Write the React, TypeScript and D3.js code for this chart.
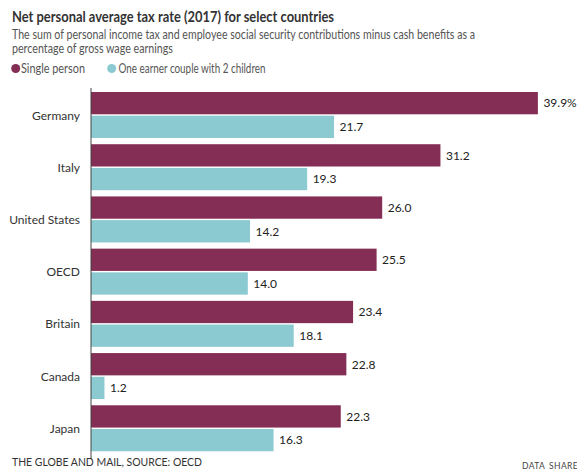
import React from "react";
import * as d3 from "d3";

const countries = ["Germany", "Italy", "United States", "OECD", "Britain", "Canada", "Japan"];
const singlePerson = [39.9, 31.2, 26.0, 25.5, 23.4, 22.8, 22.3];
const coupleTwoKids = [21.7, 19.3, 14.2, 14.0, 18.1, 1.2, 16.3];
const seriesNames = ["Single person", "One earner couple with 2 children"];
const seriesColors = ["#842d55", "#8bcad1"];

const W = 577;
const H = 474;
const FONT = "Lato, 'Open Sans', sans-serif";

export default function App() {
  const x = d3.scaleLinear().domain([0, 40]).range([91, 539]);
  const y = d3.scaleBand<string>().domain(countries).range([90, 455.5]).paddingInner(0).paddingOuter(0);
  const inner = d3.scaleBand<string>().domain(["s", "c"]).range([0, 46]).paddingInner(0.06);
  const fmt = (v: number, i: number, first: boolean) => (first && i === 0 ? d3.format(".1f")(v) + "%" : d3.format(".1f")(v));

  return (
    <svg width={W} height={H} style={{ position: "absolute", left: 0, top: 0, fontFamily: FONT }}>
      <rect width={W} height={H} fill="#fff" />
      <text x={12} y={22} fontSize={16} fontWeight="bold" fill="#333" textLength={322} lengthAdjust="spacingAndGlyphs">
        Net personal average tax rate (2017) for select countries
      </text>
      <text x={12} y={38.5} fontSize={12.5} fill="#555" textLength={463} lengthAdjust="spacingAndGlyphs">
        The sum of personal income tax and employee social security contributions minus cash benefits as a
      </text>
      <text x={12} y={53} fontSize={12.5} fill="#555" textLength={161} lengthAdjust="spacingAndGlyphs">
        percentage of gross wage earnings
      </text>
      <g>
        <circle cx={15.7} cy={68.5} r={4.5} fill={seriesColors[0]} />
        <text x={21} y={72.8} fontSize={13} fill="#555" textLength={64} lengthAdjust="spacingAndGlyphs">{seriesNames[0]}</text>
        <circle cx={111.7} cy={68.5} r={4.5} fill={seriesColors[1]} />
        <text x={118.5} y={72.8} fontSize={13} fill="#555" textLength={147} lengthAdjust="spacingAndGlyphs">{seriesNames[1]}</text>
      </g>
      {countries.map((c, i) => {
        const y0 = (y(c) as number) + 2;
        return (
          <g key={c}>
            <rect x={x(0)} y={y0 + (inner("s") as number)} width={x(singlePerson[i]) - x(0)} height={inner.bandwidth()} fill={seriesColors[0]} />
            <rect x={x(0)} y={y0 + (inner("c") as number)} width={x(coupleTwoKids[i]) - x(0)} height={inner.bandwidth()} fill={seriesColors[1]} />
            <text x={x(singlePerson[i]) + 5.5} y={y0 + (inner("s") as number) + inner.bandwidth() / 2 + 4.3} fontSize={12} fill="#222">
              {fmt(singlePerson[i], i, true)}
            </text>
            <text x={x(coupleTwoKids[i]) + 5.5} y={y0 + (inner("c") as number) + inner.bandwidth() / 2 + 4.3} fontSize={12} fill="#222">
              {fmt(coupleTwoKids[i], i, false)}
            </text>
            <text x={80} y={y0 + 23 + 4.5} fontSize={12} fill="#333" textAnchor="end">{c}</text>
          </g>
        );
      })}
      <line x1={91} x2={91} y1={88} y2={459} stroke="#444" strokeWidth={1} />
      <text x={12} y={466} fontSize={12} fill="#333" textLength={190} lengthAdjust="spacingAndGlyphs">THE GLOBE AND MAIL, SOURCE: OECD</text>
      <text x={522} y={469} fontSize={8.5} fill="#444" letterSpacing={0.4}>DATA</text>
      <text x={549} y={469} fontSize={8.5} fill="#444" letterSpacing={0.4}>SHARE</text>
    </svg>
  );
}
